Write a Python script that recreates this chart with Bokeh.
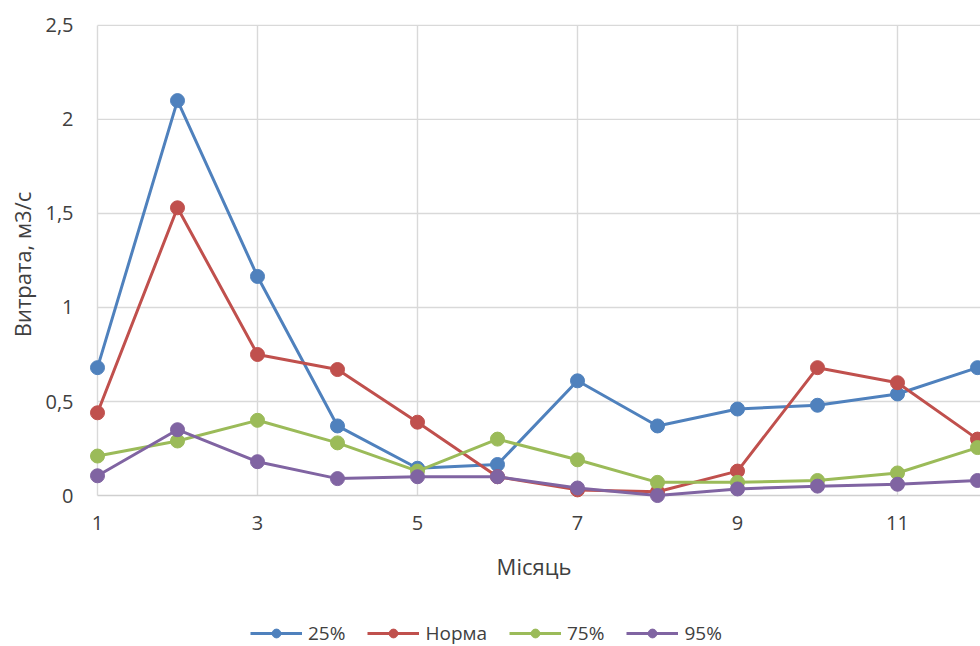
from bokeh.plotting import figure
from bokeh.layouts import column
from bokeh.models import Range1d, FixedTicker, Legend, LegendItem, CustomJSTickFormatter
from bokeh.embed import file_html
from bokeh.resources import INLINE

# Monthly discharge, m3/s, for each probability series
months = [1, 2, 3, 4, 5, 6, 7, 8, 9, 10, 11, 12]
q25 = [0.68, 2.10, 1.165, 0.37, 0.145, 0.165, 0.61, 0.37, 0.46, 0.48, 0.54, 0.68]
norm = [0.44, 1.53, 0.75, 0.67, 0.39, 0.10, 0.03, 0.02, 0.13, 0.68, 0.60, 0.30]
q75 = [0.21, 0.29, 0.40, 0.28, 0.13, 0.30, 0.19, 0.07, 0.07, 0.08, 0.12, 0.255]
q95 = [0.105, 0.35, 0.18, 0.09, 0.10, 0.10, 0.04, 0.0, 0.035, 0.05, 0.06, 0.08]

series_names = ["25%", "Норма", "75%", "95%"]
series_values = [q25, norm, q75, q95]
colors = ["#4F81BD", "#C0504D", "#9BBB59", "#8064A2"]

x_ticks = [1, 3, 5, 7, 9, 11]
y_ticks = [0, 0.5, 1, 1.5, 2, 2.5]

FONT = "Open Sans"
TEXT_COLOR = "#404040"
GRID_COLOR = "#D9D9D9"
LINE_W = 3
MARKER = 14
LEFT = 87

p = figure(
    width=980, height=600,
    output_backend="svg", toolbar_location=None,
    x_range=Range1d(0.875, 12.0375), y_range=Range1d(-0.053, 2.51),
    min_border_left=LEFT, min_border_right=0,
    min_border_top=23, min_border_bottom=95,
    outline_line_color=None,
)
p.xgrid.visible = False
p.ygrid.visible = False

# gridlines confined to the data area, axis line at zero
x_end = p.x_range.end
h_levels = [t for t in y_ticks if t > 0]
p.segment(x0=[months[0]] * len(h_levels), x1=[x_end] * len(h_levels),
          y0=h_levels, y1=h_levels, line_color=GRID_COLOR, line_width=1.4)
p.segment(x0=x_ticks, x1=x_ticks, y0=[y_ticks[0]] * len(x_ticks),
          y1=[y_ticks[-1]] * len(x_ticks), line_color=GRID_COLOR, line_width=1.4)
p.segment(x0=[months[0]], x1=[x_end], y0=[0], y1=[0],
          line_color="#CFCFCF", line_width=1.4)

for vals, col in zip(series_values, colors):
    p.line(months, vals, line_color=col, line_width=LINE_W)
    p.scatter(months, vals, size=MARKER, fill_color=col, line_color=col)

comma = CustomJSTickFormatter(code="return String(tick).replace('.', ',');")

p.xaxis.ticker = FixedTicker(ticks=x_ticks)
p.yaxis.ticker = FixedTicker(ticks=y_ticks)
p.yaxis.formatter = comma
p.xaxis.axis_label = "Місяць"
p.yaxis.axis_label = "Витрата, м3/с"

for ax in (p.xaxis[0], p.yaxis[0]):
    ax.axis_line_color = None
    ax.major_tick_line_color = None
    ax.minor_tick_line_color = None
    ax.major_tick_out = 0
    ax.major_tick_in = 0
    ax.minor_tick_out = 0
    ax.major_label_text_font = FONT
    ax.major_label_text_font_size = "20px"
    ax.major_label_text_color = TEXT_COLOR
    ax.axis_label_text_font = FONT
    ax.axis_label_text_font_size = "22px"
    ax.axis_label_text_font_style = "normal"
    ax.axis_label_text_color = TEXT_COLOR

p.xaxis.major_label_standoff = 10
p.xaxis.axis_label_standoff = 18
p.yaxis.major_label_standoff = 14
p.yaxis.axis_label_standoff = 5

# legend strip under the chart; its renderers hold no drawable points
lg = figure(
    width=980, height=46, output_backend="svg", toolbar_location=None,
    x_range=Range1d(0, 1), y_range=Range1d(0, 1),
    min_border=0, min_border_left=LEFT, outline_line_color=None,
)
lg.axis.visible = False
lg.grid.visible = False

nan = float("nan")
items = []
for name, col in zip(series_names, colors):
    ln = lg.line([nan], [nan], line_color=col, line_width=LINE_W)
    sc = lg.scatter([nan], [nan], size=MARKER - 2, fill_color=col, line_color=col)
    items.append(LegendItem(label=name, renderers=[ln, sc]))

legend = Legend(
    items=items, orientation="horizontal", location=(250 - LEFT, 0),
    padding=0, margin=0, spacing=22, label_standoff=6,
    glyph_width=52, glyph_height=22, label_height=22,
    border_line_color=None, background_fill_alpha=0,
    label_text_font=FONT, label_text_font_size="19px",
    label_text_color=TEXT_COLOR,
)
lg.add_layout(legend)

layout = column(p, lg, spacing=0)
open("out.html", "w").write(file_html(layout, INLINE))
